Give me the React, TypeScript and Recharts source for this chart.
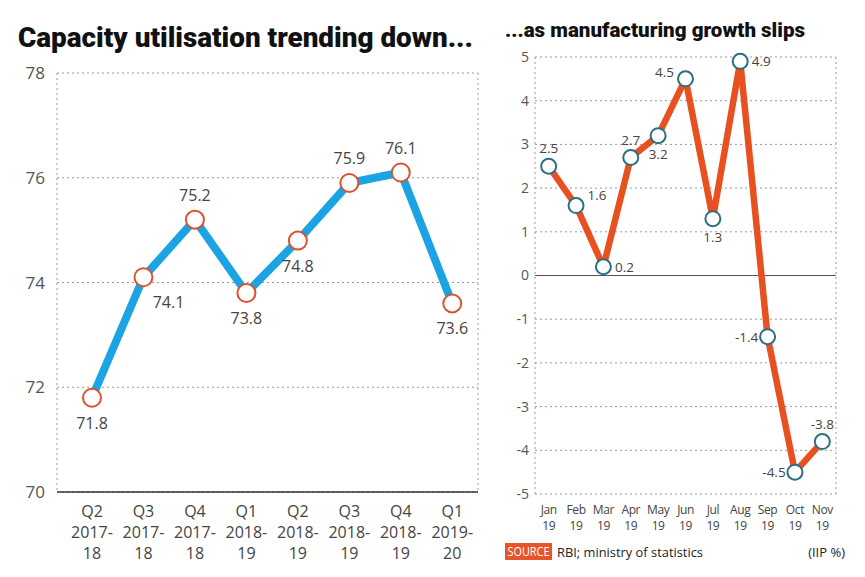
import React from "react";
import {
    CartesianGrid,
    LabelList,
    Line,
    LineChart,
    ReferenceLine,
    XAxis,
    YAxis,
} from "recharts";

// left panel: capacity utilisation (%)
const capQuarters = ["Q2", "Q3", "Q4", "Q1", "Q2", "Q3", "Q4", "Q1"];
const capFyStart = ["2017-", "2017-", "2017-", "2018-", "2018-", "2018-", "2018-", "2019-"];
const capFyEnd = ["18", "18", "18", "19", "19", "19", "19", "20"];
const capValues = [71.8, 74.1, 75.2, 73.8, 74.8, 75.9, 76.1, 73.6];
const capTicks = [70, 72, 74, 76, 78];

// right panel: IIP manufacturing growth (%)
const months = ["Jan", "Feb", "Mar", "Apr", "May", "Jun", "Jul", "Aug", "Sep", "Oct", "Nov"];
const monthYears = ["19", "19", "19", "19", "19", "19", "19", "19", "19", "19", "19"];
const iipValues = [2.5, 1.6, 0.2, 2.7, 3.2, 4.5, 1.3, 4.9, -1.4, -4.5, -3.8];
const iipTicks = [-5, -4, -3, -2, -1, 0, 1, 2, 3, 4, 5];

// where each value label sits relative to its dot
const capLabelPlace = ["below", "belowRight", "above", "below", "below", "above", "above", "below"];
const iipLabelPlace = ["above", "rightUp", "right", "above", "below", "leftUp", "below", "right", "left", "left", "above"];

const capData = capValues.map((v, i) => ({ i, v }));
const iipData = iipValues.map((v, i) => ({ i, v }));
const capIdx = capValues.map((_, i) => i);
const capBounds = capValues.map((_, i) => i + 0.5);
const iipIdx = iipValues.map((_, i) => i);
const iipBounds = iipValues.map((_, i) => i + 0.5);

const FONT = "'Open Sans', sans-serif";

const offsets: Record<string, [number, number]> = {
    above: [0, -1],
    below: [0, 1],
    belowRight: [1, 1],
    right: [1, 0],
    rightUp: [1, -0.6],
    left: [-1, 0],
    leftUp: [-1, -0.4],
};

const makeLabel = (places: string[], dx: number, dy: number, size: number) => (props: any) => {
    const { x, y, value, index } = props;
    const [ox, oy] = offsets[places[index]] || [0, -1];
    return (
        <text
            x={x + ox * dx}
            y={y + oy * dy}
            textAnchor="middle"
            dominantBaseline="central"
            fontSize={size}
            fontFamily={FONT}
            fill="#444"
        >
            {value}
        </text>
    );
};

const CapTick = (props: any) => {
    const { x, y, payload } = props;
    const i = payload.value;
    return (
        <g>
            <text x={x} y={y + 23} textAnchor="middle" fontSize={16} fontFamily={FONT} fill="#444">{capQuarters[i]}</text>
            <text x={x} y={y + 44} textAnchor="middle" fontSize={16} fontFamily={FONT} fill="#444">{capFyStart[i]}</text>
            <text x={x} y={y + 65} textAnchor="middle" fontSize={16} fontFamily={FONT} fill="#444">{capFyEnd[i]}</text>
        </g>
    );
};

const IipTick = (props: any) => {
    const { x, y, payload } = props;
    const i = payload.value;
    return (
        <g>
            <text x={x} y={y + 18} textAnchor="middle" fontSize={12} letterSpacing={-0.4} fontFamily={FONT} fill="#444">{months[i]}</text>
            <text x={x} y={y + 34} textAnchor="middle" fontSize={12} letterSpacing={-0.4} fontFamily={FONT} fill="#444">{monthYears[i]}</text>
        </g>
    );
};

export default function App() {
    return (
        <div style={{ position: "absolute", left: 0, top: 0, width: 865, height: 577, background: "#fff" }}>
            <div style={{ position: "absolute", left: 0, top: 0 }}>
                <LineChart width={490} height={577} data={capData} margin={{ top: 73, right: 12, left: 17, bottom: 0 }}>
                    <CartesianGrid xAxisId="grid" stroke="#999" strokeDasharray="2 3" />
                    <XAxis
                        dataKey="i"
                        type="number"
                        domain={[-0.68, 7.5]}
                        ticks={capIdx}
                        allowDataOverflow
                        height={85}
                        tick={<CapTick />}
                        tickLine={false}
                        tickSize={0}
                        axisLine={{ stroke: "#333", strokeWidth: 1.5 }}
                    />
                    <XAxis
                        xAxisId="grid"
                        type="number"
                        domain={[-0.68, 7.5]}
                        ticks={capBounds}
                        allowDataOverflow
                        height={0}
                        tick={false}
                        tickLine={false}
                        axisLine={false}
                    />
                    <YAxis
                        domain={[70, 78]}
                        ticks={capTicks}
                        width={40}
                        tickSize={0}
                        tickMargin={12}
                        axisLine={false}
                        tickLine={false}
                        tick={{ fontSize: 17, fill: "#555", fontFamily: FONT }}
                    />
                    <Line
                        dataKey="v"
                        stroke="#1ba3e3"
                        strokeWidth={8}
                        strokeLinejoin="round"
                        dot={{ r: 9, fill: "#fff", stroke: "#d9532e", strokeWidth: 2 }}
                        isAnimationActive={false}
                    >
                        <LabelList dataKey="v" content={makeLabel(capLabelPlace, 25, 25, 16)} />
                    </Line>
                </LineChart>
            </div>
            <div style={{ position: "absolute", left: 490, top: 0 }}>
                <LineChart width={375} height={577} data={iipData} margin={{ top: 57, right: 29, left: 15, bottom: 0 }}>
                    <CartesianGrid xAxisId="grid" stroke="#999" strokeDasharray="2 3" />
                    <XAxis
                        dataKey="i"
                        type="number"
                        domain={[-0.5, 10.5]}
                        ticks={iipIdx}
                        allowDataOverflow
                        height={83}
                        tick={<IipTick />}
                        tickLine={false}
                        tickSize={0}
                        axisLine={false}
                    />
                    <XAxis
                        xAxisId="grid"
                        type="number"
                        domain={[-0.5, 10.5]}
                        ticks={iipBounds}
                        allowDataOverflow
                        height={0}
                        tick={false}
                        tickLine={false}
                        axisLine={false}
                    />
                    <YAxis
                        domain={[-5, 5]}
                        ticks={iipTicks}
                        width={30}
                        tickSize={0}
                        tickMargin={6}
                        axisLine={false}
                        tickLine={false}
                        tick={{ fontSize: 14, fill: "#555", fontFamily: FONT }}
                    />
                    <ReferenceLine y={0} stroke="#555" strokeWidth={1.2} />
                    <Line
                        dataKey="v"
                        stroke="#e8501f"
                        strokeWidth={6.5}
                        strokeLinejoin="round"
                        dot={{ r: 7.5, fill: "#fff", stroke: "#2b6f80", strokeWidth: 2 }}
                        isAnimationActive={false}
                    >
                        <LabelList dataKey="v" content={makeLabel(iipLabelPlace, 21, 18, 13.5)} />
                    </Line>
                </LineChart>
            </div>
            <svg width={865} height={577} style={{ position: "absolute", left: 0, top: 0, pointerEvents: "none" }}>
                <text x={18} y={47} fontSize={28} fontWeight={900} fontFamily="Roboto, sans-serif" fill="#111" textLength={455} lengthAdjust="spacingAndGlyphs">
                    Capacity utilisation trending down...
                </text>
                <text x={505} y={37} fontSize={20} fontWeight={900} fontFamily="Roboto, sans-serif" fill="#111" textLength={300} lengthAdjust="spacingAndGlyphs">
                    ...as manufacturing growth slips
                </text>
                <rect x={505} y={543} width={47} height={17} fill="#e8542a" />
                <text x={528.5} y={556} textAnchor="middle" fontSize={12} fontFamily={FONT} fill="#fff" textLength={42} lengthAdjust="spacingAndGlyphs">
                    SOURCE
                </text>
                <text x={557} y={557} fontSize={13} fontFamily={FONT} fill="#222" textLength={146} lengthAdjust="spacingAndGlyphs">
                    RBI; ministry of statistics
                </text>
                <text x={845} y={557} textAnchor="end" fontSize={13} fontFamily={FONT} fill="#222">
                    (IIP %)
                </text>
            </svg>
        </div>
    );
}
